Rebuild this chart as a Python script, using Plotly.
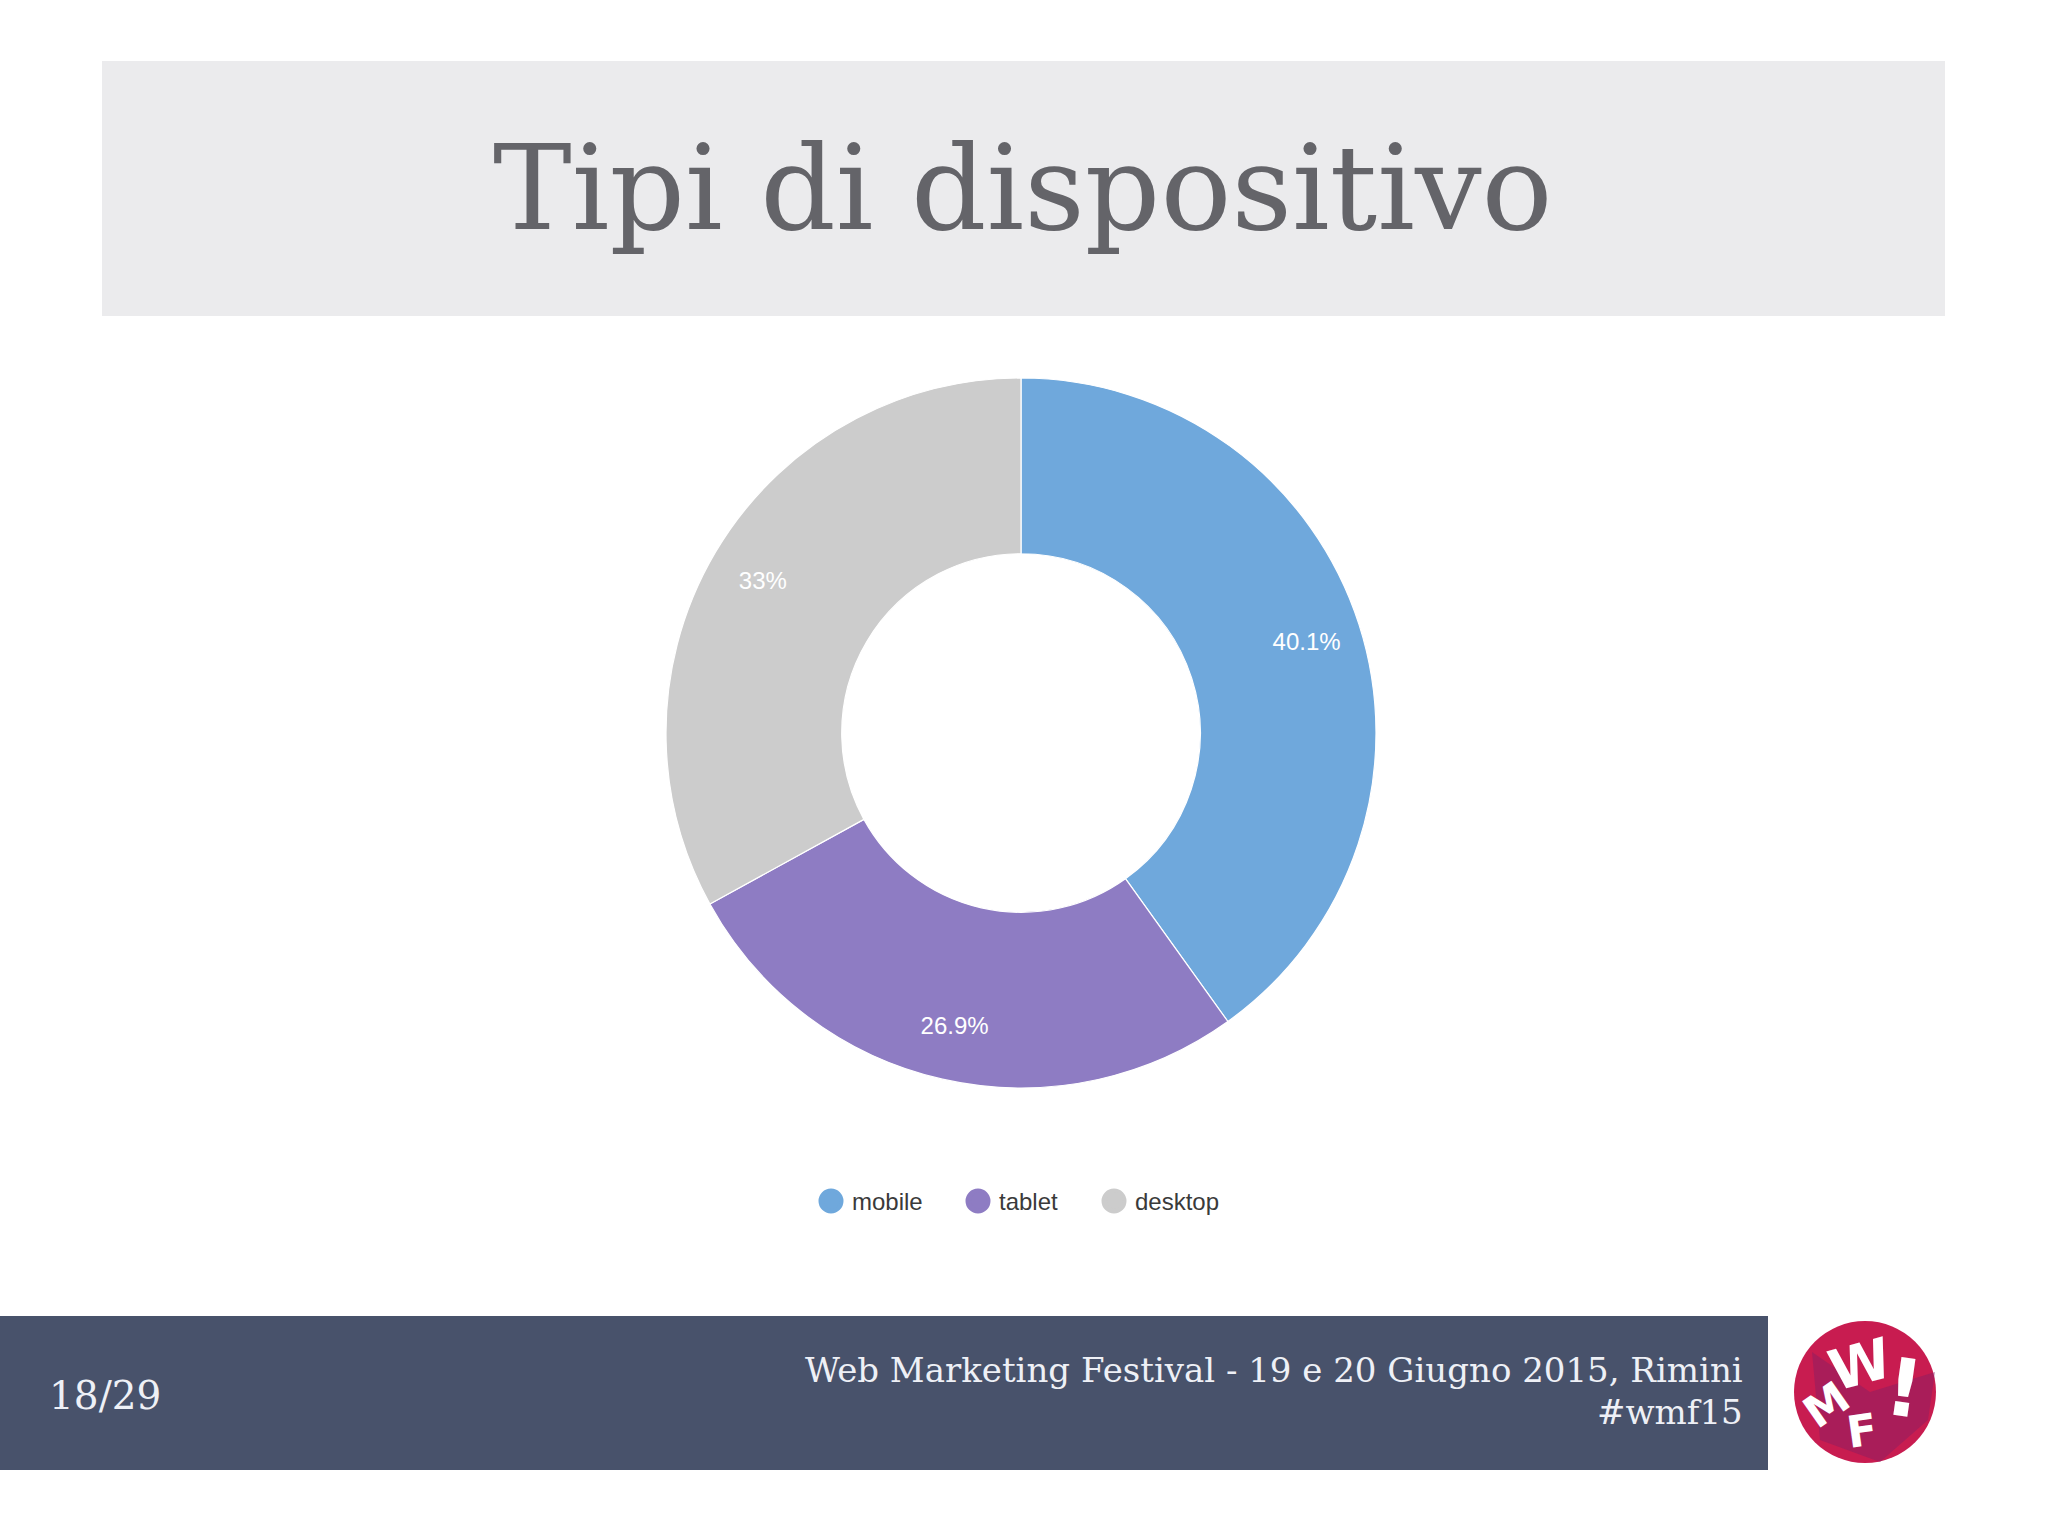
import plotly.graph_objects as go

# ---- data ----
categories = ["mobile", "tablet", "desktop"]
shares = [40.1, 26.9, 33.0]
share_labels = ["40.1%", "26.9%", "33%"]
colors = ["#6fa8dc", "#8e7cc3", "#cccccc"]

title_text = "Tipi di dispositivo"
page_text = "18/29"
footer_line1 = "Web Marketing Festival - 19 e 20 Giugno 2015, Rimini"
footer_line2 = "#wmf15"

W, H = 2048, 1536

def px(x):
    return x / W

def py(y):
    return 1 - y / H

fig = go.Figure()

# donut geometry
cx, cy, R = 1021, 733, 355
pie_domain = dict(x=[px(cx - R), px(cx + R)], y=[py(cy + R), py(cy - R)])

fig.add_trace(go.Pie(
    labels=categories,
    values=shares,
    textinfo="none",
    marker=dict(colors=colors, line=dict(color="#ffffff", width=1.2)),
    hole=0.505,
    sort=False,
    direction="clockwise",
    rotation=0,
    showlegend=False,
    domain=pie_domain,
    hoverinfo="label+percent",
))

# transparent overlay carrying the percentage labels (places them further out in the ring)
fig.add_trace(go.Pie(
    labels=categories,
    values=shares,
    text=share_labels,
    texttemplate="%{text}",
    textposition="inside",
    insidetextorientation="horizontal",
    textfont=dict(family="Liberation Sans, Arial, sans-serif", size=24, color="#ffffff"),
    marker=dict(colors=["rgba(0,0,0,0)"] * len(categories), line=dict(width=0)),
    hole=0.69,
    sort=False,
    direction="clockwise",
    rotation=0,
    showlegend=False,
    domain=pie_domain,
    hoverinfo="skip",
))

# legend entries, one legend per entry for exact spacing
legend_names = ["legend", "legend2", "legend3"]
legend_x = [812, 959, 1095]
for name, col, lg in zip(categories, colors, legend_names):
    fig.add_trace(go.Scatter(
        x=[None], y=[None], mode="markers", name=name,
        marker=dict(symbol="circle", size=16, color=col),
        showlegend=True, legend=lg, hoverinfo="skip",
    ))

legend_common = dict(
    orientation="h",
    font=dict(family="Liberation Sans, Arial, sans-serif", size=24, color="#3a3a3a"),
    bgcolor="rgba(0,0,0,0)",
    yanchor="middle",
    y=py(1201),
    xanchor="left",
    itemwidth=30,
)

shapes = [
    # title band
    dict(type="rect", xref="paper", yref="paper", x0=px(102), x1=px(1945), y0=py(316), y1=py(61),
         fillcolor="#ebebed", line=dict(width=0), layer="below"),
    # footer band
    dict(type="rect", xref="paper", yref="paper", x0=0, x1=px(1768), y0=py(1470), y1=py(1316),
         fillcolor="#48526b", line=dict(width=0), layer="below"),
    # logo circle
    dict(type="circle", xref="paper", yref="paper", x0=px(1794), x1=px(1936), y0=py(1463), y1=py(1321),
         fillcolor="#c81c50", line=dict(width=0), layer="below"),
    dict(type="path", xref="paper", yref="paper",
         path=f"M {px(1812)},{py(1352)} L {px(1870)},{py(1392)} L {px(1935)},{py(1372)} L {px(1928)},{py(1420)} L {px(1880)},{py(1462)} L {px(1820)},{py(1440)} Z",
         fillcolor="rgba(130,30,100,0.45)", line=dict(width=0), layer="below"),
]

# larger round legend symbols, laid over the legend's own markers
for lx, col in zip([831, 978, 1114], colors):
    shapes.append(dict(type="circle", xref="paper", yref="paper",
                       x0=px(lx - 12.5), x1=px(lx + 12.5), y0=py(1201 + 12.5), y1=py(1201 - 12.5),
                       fillcolor=col, line=dict(width=0), layer="above"))

serif = "DejaVu Serif, Liberation Serif, serif"
annotations = [
    dict(text=title_text, x=px(1023), y=py(188), xref="paper", yref="paper",
         xanchor="center", yanchor="middle", showarrow=False,
         font=dict(family=serif, size=118, color="#646469")),
    dict(text=page_text, x=px(47), y=py(1395), xref="paper", yref="paper",
         xanchor="left", yanchor="middle", showarrow=False,
         font=dict(family=serif, size=39, color="#eef0f6")),
    dict(text=footer_line1, x=px(1745), y=py(1370), xref="paper", yref="paper",
         xanchor="right", yanchor="middle", showarrow=False,
         font=dict(family=serif, size=34, color="#eef0f6")),
    dict(text=footer_line2, x=px(1745), y=py(1412), xref="paper", yref="paper",
         xanchor="right", yanchor="middle", showarrow=False,
         font=dict(family=serif, size=34, color="#eef0f6")),
]

# logo letters
logo_letters = [("W", 1860, 1364, 56, -15), ("M", 1826, 1404, 44, -35),
                ("F", 1862, 1430, 44, -8), ("!", 1904, 1388, 80, 8)]
for ch, lx, ly, sz, ang in logo_letters:
    annotations.append(dict(text=f"<b>{ch}</b>", x=px(lx), y=py(ly), xref="paper", yref="paper",
                            xanchor="center", yanchor="middle", showarrow=False, textangle=ang,
                            font=dict(family="DejaVu Sans, sans-serif", size=sz, color="#ffffff")))

layout_legends = {}
for lg, lx in zip(legend_names, legend_x):
    layout_legends[lg] = dict(legend_common, x=px(lx))

fig.update_layout(
    width=W, height=H,
    margin=dict(l=0, r=0, t=0, b=0),
    paper_bgcolor="#ffffff",
    plot_bgcolor="#ffffff",
    xaxis=dict(visible=False),
    yaxis=dict(visible=False),
    shapes=shapes,
    annotations=annotations,
    **layout_legends,
)

fig.write_html("out.html", config={"displayModeBar": False},
               post_script="document.body.style.margin='0';document.body.style.overflow='hidden';")
